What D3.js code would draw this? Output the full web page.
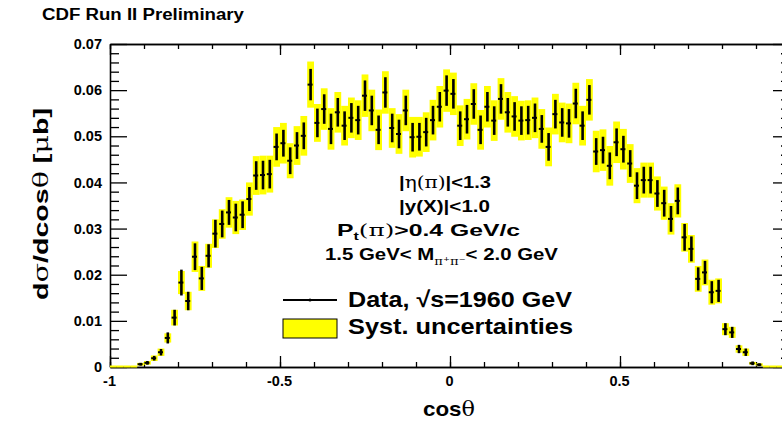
<!DOCTYPE html>
<html>
<head>
<meta charset="utf-8">
<script src="https://d3js.org/d3.v7.min.js"></script>
<style>
body { margin: 0; background: #fff; }
text { font-family: "Liberation Sans", Arial, Helvetica, sans-serif; font-weight: bold; fill: #000; }
.greek { font-family: "DejaVu Serif", "Liberation Serif", serif; font-weight: normal; }
</style>
</head>
<body>
<div id="chart"></div>
<script>
// bin centres of cos(theta), 0.02 wide bins
var binCenters = [
  -0.99, -0.97, -0.95, -0.93, -0.91, -0.89, -0.87, -0.85, -0.83, -0.81,
  -0.79, -0.77, -0.75, -0.73, -0.71, -0.69, -0.67, -0.65, -0.63, -0.61,
  -0.59, -0.57, -0.55, -0.53, -0.51, -0.49, -0.47, -0.45, -0.43, -0.41,
  -0.39, -0.37, -0.35, -0.33, -0.31, -0.29, -0.27, -0.25, -0.23, -0.21,
  -0.19, -0.17, -0.15, -0.13, -0.11, -0.09, -0.07, -0.05, -0.03, -0.01,
   0.01,  0.03,  0.05,  0.07,  0.09,  0.11,  0.13,  0.15,  0.17,  0.19,
   0.21,  0.23,  0.25,  0.27,  0.29,  0.31,  0.33,  0.35,  0.37,  0.39,
   0.41,  0.43,  0.45,  0.47,  0.49,  0.51,  0.53,  0.55,  0.57,  0.59,
   0.61,  0.63,  0.65,  0.67,  0.69,  0.71,  0.73,  0.75,  0.77,  0.79,
   0.81,  0.83,  0.85,  0.87,  0.89,  0.91,  0.93,  0.95,  0.97,  0.99
];

// dsigma/dcos(theta) [mub]
var xsec = [
  0, 0, 0, 0, 0.0006, 0.0009, 0.0019, 0.0032, 0.0063, 0.0107,
  0.0183, 0.0143, 0.0239, 0.0192, 0.0241, 0.0289, 0.0310, 0.0335, 0.0324, 0.0330,
  0.0364, 0.0415, 0.0416, 0.0418, 0.0477, 0.0485, 0.0447, 0.0480, 0.0501, 0.0612,
  0.0529, 0.0559, 0.0516, 0.0552, 0.0523, 0.0540, 0.0535, 0.0588, 0.0556, 0.0514,
  0.0595, 0.0518, 0.0505, 0.0556, 0.0498, 0.0499, 0.0509, 0.0535, 0.0564, 0.0599,
  0.0592, 0.0523, 0.0537, 0.0570, 0.0514, 0.0564, 0.0534, 0.0581, 0.0552, 0.0543,
  0.0534, 0.0535, 0.0540, 0.0516, 0.0477, 0.0548, 0.0530, 0.0528, 0.0571, 0.0523,
  0.0579, 0.0467, 0.0470, 0.0436, 0.0487, 0.0472, 0.0441, 0.0393, 0.0405, 0.0405,
  0.0376, 0.0355, 0.0321, 0.0360, 0.0281, 0.0256, 0.0191, 0.0205, 0.0162, 0.0165,
  0.0082, 0.0075, 0.0039, 0.0032, 0.0008, 0.0005, 0, 0, 0, 0
];

// statistical errors (half length of the black bars)
var statErr = [
  0, 0, 0, 0, 0.0003, 0.0004, 0.0005, 0.0007, 0.0012, 0.0017,
  0.0028, 0.0020, 0.0029, 0.0025, 0.0025, 0.0030, 0.0029, 0.0027, 0.0030, 0.0029,
  0.0026, 0.0031, 0.0031, 0.0031, 0.0029, 0.0029, 0.0029, 0.0029, 0.0029, 0.0034,
  0.0031, 0.0032, 0.0033, 0.0031, 0.0031, 0.0032, 0.0031, 0.0033, 0.0032, 0.0031,
  0.0033, 0.0031, 0.0031, 0.0032, 0.0031, 0.0030, 0.0031, 0.0031, 0.0032, 0.0033,
  0.0032, 0.0031, 0.0031, 0.0032, 0.0031, 0.0032, 0.0031, 0.0032, 0.0031, 0.0031,
  0.0031, 0.0031, 0.0031, 0.0030, 0.0030, 0.0031, 0.0031, 0.0031, 0.0032, 0.0031,
  0.0032, 0.0029, 0.0029, 0.0029, 0.0030, 0.0029, 0.0029, 0.0029, 0.0029, 0.0029,
  0.0029, 0.0029, 0.0028, 0.0029, 0.0029, 0.0027, 0.0025, 0.0025, 0.0024, 0.0024,
  0.0013, 0.0012, 0.0009, 0.0008, 0.0004, 0.0003, 0, 0, 0, 0
];

// systematic uncertainties (half height of the yellow boxes)
var systErr = [
  0, 0, 0, 0, 0.0003, 0.0004, 0.0006, 0.0008, 0.0010, 0.0017,
  0.0025, 0.0020, 0.0033, 0.0027, 0.0026, 0.0031, 0.0032, 0.0033, 0.0036, 0.0033,
  0.0036, 0.0042, 0.0042, 0.0040, 0.0043, 0.0044, 0.0038, 0.0042, 0.0043, 0.0050,
  0.0041, 0.0045, 0.0045, 0.0044, 0.0043, 0.0044, 0.0043, 0.0046, 0.0045, 0.0044,
  0.0046, 0.0043, 0.0043, 0.0045, 0.0044, 0.0043, 0.0043, 0.0044, 0.0045, 0.0046,
  0.0046, 0.0044, 0.0044, 0.0045, 0.0043, 0.0045, 0.0044, 0.0045, 0.0044, 0.0044,
  0.0043, 0.0043, 0.0044, 0.0043, 0.0042, 0.0044, 0.0043, 0.0043, 0.0045, 0.0043,
  0.0045, 0.0045, 0.0045, 0.0043, 0.0045, 0.0044, 0.0042, 0.0038, 0.0038, 0.0038,
  0.0037, 0.0036, 0.0034, 0.0036, 0.0031, 0.0030, 0.0028, 0.0028, 0.0027, 0.0027,
  0.0013, 0.0012, 0.0008, 0.0008, 0.0003, 0.0003, 0, 0, 0, 0
];

var binWidth = 0.02;

// the "1" label falls outside the picture, so only these are labelled
var xMajorTicks = [-1, -0.5, 0, 0.5, 1];
var xLabelTicks = [-1, -0.5, 0, 0.5];
var xTickLabels = ["-1", "-0.5", "0", "0.5"];
var xMinorTicks = [-1, -0.9, -0.8, -0.7, -0.6, -0.5, -0.4, -0.3, -0.2, -0.1, 0,
                   0.1, 0.2, 0.3, 0.4, 0.5, 0.6, 0.7, 0.8, 0.9, 1];
var yMajorTicks = [0, 0.01, 0.02, 0.03, 0.04, 0.05, 0.06, 0.07];
var yTickLabels = ["0", "0.01", "0.02", "0.03", "0.04", "0.05", "0.06", "0.07"];
var yMinorTicks = [0.002, 0.004, 0.006, 0.008, 0.012, 0.014, 0.016, 0.018,
                   0.022, 0.024, 0.026, 0.028, 0.032, 0.034, 0.036, 0.038,
                   0.042, 0.044, 0.046, 0.048, 0.052, 0.054, 0.056, 0.058,
                   0.062, 0.064, 0.066, 0.068];

var W = 782, H = 421;
var frame = {left: 110, right: 790, top: 44, bottom: 367};

var svg = d3.select("#chart").append("svg")
    .attr("width", W)
    .attr("height", H);

var x = d3.scaleLinear().domain([-1, 1]).range([frame.left, frame.right]);
var y = d3.scaleLinear().domain([0, 0.07]).range([frame.bottom, frame.top]);

// axes, ticks point into the frame
function noLabel() { return ""; }

svg.append("g")
    .attr("transform", "translate(0," + frame.bottom + ")")
    .call(d3.axisBottom(x).tickValues(xMinorTicks).tickSizeInner(-5).tickSizeOuter(0).tickFormat(noLabel));
svg.append("g")
    .attr("transform", "translate(0," + frame.bottom + ")")
    .call(d3.axisBottom(x).tickValues(xMajorTicks).tickSizeInner(-11).tickSizeOuter(0).tickFormat(noLabel));
svg.append("g")
    .attr("transform", "translate(-1," + frame.bottom + ")")
    .call(d3.axisBottom(x).tickValues(xLabelTicks).tickSize(0).tickPadding(9)
        .tickFormat(function(d, i) { return xTickLabels[i]; }))
    .call(function(g) { g.select(".domain").remove(); });
svg.append("g")
    .attr("transform", "translate(0," + frame.top + ")")
    .call(d3.axisTop(x).tickValues(xMinorTicks).tickSizeInner(-5).tickSizeOuter(0).tickFormat(noLabel));
svg.append("g")
    .attr("transform", "translate(0," + frame.top + ")")
    .call(d3.axisTop(x).tickValues(xMajorTicks).tickSizeInner(-11).tickSizeOuter(0).tickFormat(noLabel));

svg.append("g")
    .attr("transform", "translate(" + frame.left + ",0)")
    .call(d3.axisLeft(y).tickValues(yMinorTicks).tickSizeInner(-9).tickSizeOuter(0).tickFormat(noLabel));
svg.append("g")
    .attr("transform", "translate(" + frame.left + ",0)")
    .call(d3.axisLeft(y).tickValues(yMajorTicks).tickSizeInner(-17).tickSizeOuter(0).tickPadding(8)
        .tickFormat(function(d, i) { return yTickLabels[i]; }));
svg.append("g")
    .attr("transform", "translate(" + frame.right + ",0)")
    .call(d3.axisRight(y).tickValues(yMinorTicks).tickSizeInner(-9).tickSizeOuter(0).tickFormat(noLabel));
svg.append("g")
    .attr("transform", "translate(" + frame.right + ",0)")
    .call(d3.axisRight(y).tickValues(yMajorTicks).tickSizeInner(-17).tickSizeOuter(0).tickFormat(noLabel));

svg.selectAll(".domain").attr("stroke", "#000").attr("stroke-width", 1.3);
svg.selectAll(".tick line").attr("stroke", "#000").attr("stroke-width", 1.3);
svg.selectAll(".tick text")
    .attr("font-family", "Liberation Sans, Arial, sans-serif")
    .attr("font-weight", "bold")
    .attr("font-size", 14.5)
    .attr("fill", "#000");

var bins = binCenters.map(function(c, i) {
    return {c: c, v: xsec[i], stat: statErr[i], syst: systErr[i]};
});

// systematic boxes
svg.append("g").selectAll("rect")
    .data(bins)
  .enter().append("rect")
    .attr("x", function(d) { return x(d.c - binWidth / 2); })
    .attr("width", function(d) { return x(d.c + binWidth / 2) - x(d.c - binWidth / 2); })
    .attr("y", function(d) { return d.v === 0 ? y(0) - 1.5 : y(d.v + d.syst); })
    .attr("height", function(d) { return d.v === 0 ? 2 : y(Math.max(0, d.v - d.syst)) - y(d.v + d.syst); })
    .attr("fill", "#ffff00");

var points = bins.filter(function(d) { return d.v > 0; });

// statistical error bars
svg.append("g").selectAll("line")
    .data(points)
  .enter().append("line")
    .attr("x1", function(d) { return x(d.c); })
    .attr("x2", function(d) { return x(d.c); })
    .attr("y1", function(d) { return y(d.v + d.stat); })
    .attr("y2", function(d) { return y(Math.max(0, d.v - d.stat)); })
    .attr("stroke", "#000")
    .attr("stroke-width", 2.6);

// markers
svg.append("g").selectAll("line")
    .data(points)
  .enter().append("line")
    .attr("x1", function(d) { return x(d.c) - 3; })
    .attr("x2", function(d) { return x(d.c) + 2; })
    .attr("y1", function(d) { return y(d.v); })
    .attr("y2", function(d) { return y(d.v); })
    .attr("stroke", "#000")
    .attr("stroke-width", 2);

// the original text is drawn a little wider than its height suggests
function stretch(sel, len) {
    return sel.attr("textLength", len).attr("lengthAdjust", "spacingAndGlyphs");
}

// title
stretch(svg.append("text")
    .attr("x", 42)
    .attr("y", 20)
    .attr("font-size", 16)
    .text("CDF Run II Preliminary"), 202);

// axis titles
var xt = svg.append("text")
    .attr("x", 423)
    .attr("y", 416)
    .attr("font-size", 21);
xt.append("tspan").text("cos");
xt.append("tspan").attr("class", "greek").text("θ");
stretch(xt, 52);

var yt = svg.append("text")
    .attr("transform", "translate(48,300) rotate(-90)")
    .attr("font-size", 21);
yt.append("tspan").text("d");
yt.append("tspan").attr("class", "greek").text("σ");
yt.append("tspan").text("/dcos");
yt.append("tspan").attr("class", "greek").text("θ");
yt.append("tspan").text(" [");
yt.append("tspan").attr("class", "greek").text("μ");
yt.append("tspan").text("b]");
stretch(yt, 192);

// selection cuts
var cutSize = 17;
var t1 = svg.append("text").attr("x", 399).attr("y", 188).attr("font-size", cutSize);
t1.append("tspan").text("|");
t1.append("tspan").attr("class", "greek").text("η(π)");
t1.append("tspan").text("|<1.3");
stretch(t1, 92);

stretch(svg.append("text").attr("x", 399).attr("y", 212).attr("font-size", cutSize)
    .text("|y(X)|<1.0"), 91);

var t3 = svg.append("text").attr("x", 337).attr("y", 236).attr("font-size", cutSize);
t3.append("tspan").text("P");
t3.append("tspan").attr("font-size", 11).attr("dy", 4).text("t");
t3.append("tspan").attr("class", "greek").attr("dy", -4).text("(π)");
t3.append("tspan").text(">0.4 GeV/c");
stretch(t3, 183);

var t4 = svg.append("text").attr("x", 325).attr("y", 260).attr("font-size", cutSize);
t4.append("tspan").text("1.5 GeV< M");
t4.append("tspan").attr("class", "greek").attr("font-size", 11).attr("dy", 5).text("π⁺π⁻");
t4.append("tspan").attr("dy", -5).text("< 2.0 GeV");
stretch(t4, 233);

// legend
var lg = svg.append("g");
lg.append("line")
    .attr("x1", 283).attr("x2", 337).attr("y1", 300).attr("y2", 300)
    .attr("stroke", "#000").attr("stroke-width", 2);
lg.append("circle")
    .attr("cx", 310).attr("cy", 300).attr("r", 1.6).attr("fill", "#000");
stretch(lg.append("text")
    .attr("x", 348).attr("y", 307).attr("font-size", 22.5)
    .text("Data, √s=1960 GeV"), 224);
lg.append("rect")
    .attr("x", 283).attr("y", 319).attr("width", 54).attr("height", 19)
    .attr("fill", "#ffff00").attr("stroke", "#000").attr("stroke-width", 1);
stretch(lg.append("text")
    .attr("x", 348).attr("y", 334).attr("font-size", 22.5)
    .text("Syst. uncertainties"), 225);
</script>
</body>
</html>
